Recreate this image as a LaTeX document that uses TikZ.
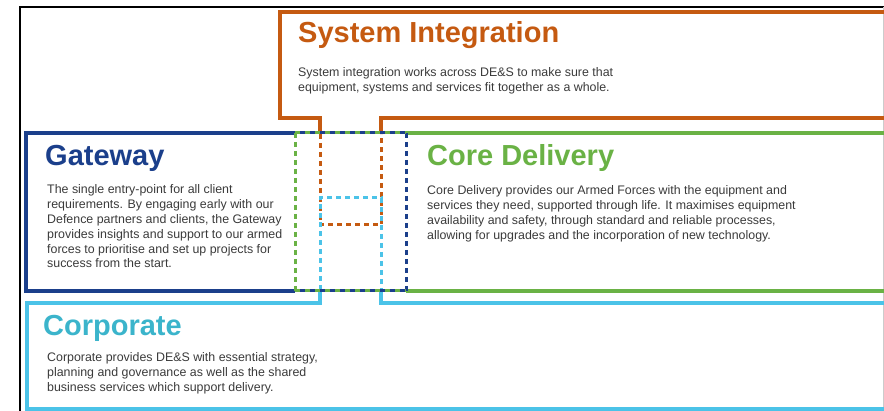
\documentclass[tikz,border=0pt]{standalone}
\usepackage{fontspec}
\setmainfont{Liberation Sans}

\definecolor{siorange}{HTML}{C55A11}
\definecolor{gwblue}{HTML}{1B3F8B}
\definecolor{cdgreen}{HTML}{6AB245}
\definecolor{cpcyan}{HTML}{4BC3E8}
\definecolor{cptitle}{HTML}{3BB4CB}
\definecolor{bodygray}{HTML}{3A3A3A}

\begin{document}
\begin{tikzpicture}[x=1pt, y=-1pt,
    edge/.style={line width=3.2pt},
    dashedge/.style={line width=3pt, dash pattern=on 5pt off 4pt},
    halfdash/.style={line width=3pt, dash pattern=on 5pt off 5pt},
    title/.style={anchor=base west, inner sep=0pt, font=\fontsize{29}{33}\selectfont\bfseries},
    body/.style={anchor=base west, inner sep=0pt, align=left, text=bodygray,
        font=\fontsize{12.4}{14.8}\selectfont}]
    \useasboundingbox (0,0) rectangle (884,411);
    % frame
    \draw[black, line width=1.8pt] (20,412) -- (20,7) -- (890,7);
    \draw[black!20, line width=0.8pt] (883.5,7) -- (883.5,412);
    % System Integration
    \draw[siorange, edge] (890,118) -- (381,118) -- (381,134);
    \draw[siorange, edge] (890,12) -- (280,12) -- (280,118) -- (320,118) -- (320,134);
    \draw[siorange, dashedge] (320,134) -- (320,225) -- (381,225) -- (381,134);
    % Corporate
    \draw[cpcyan, edge] (890,303) -- (381,303) -- (381,290);
    \draw[cpcyan, edge] (890,409) -- (27,409) -- (27,303) -- (320,303) -- (320,290);
    \draw[cpcyan, dashedge] (320,290) -- (320,198) -- (381,198) -- (381,290);
    % Gateway and Core Delivery
    \draw[gwblue, edge] (295,133) -- (26,133) -- (26,291) -- (295,291);
    \draw[cdgreen, edge] (406,133) -- (890,133);
    \draw[cdgreen, edge] (406,291) -- (890,291);
    \draw[cdgreen, dashedge] (295,133) -- (295,291);
    \draw[gwblue, dashedge] (406,133) -- (406,291);
    \draw[cdgreen, halfdash] (295,133) -- (406,133) (295,291) -- (406,291);
    \draw[gwblue, halfdash, dash phase=5pt] (295,133) -- (406,133) (295,291) -- (406,291);
    % texts (body nodes sit on their last baseline)
    \node[title, text=siorange] (sititle) at (298,43) {System Integration};
    \node[body] (sitext) at (298,91.8) {System integration works across DE\&S to make sure that\\
        equipment, systems and services fit together as a whole.};
    \node[title, text=gwblue] (gwtitle) at (45,166) {Gateway};
    \node[body] (gwtext) at (47,268) {The single entry-point for all client\\
        requirements. By engaging early with our\\
        Defence partners and clients, the Gateway\\
        provides insights and support to our armed\\
        forces to prioritise and set up projects for\\
        success from the start.};
    \node[title, text=cdgreen] (cdtitle) at (427,166) {Core Delivery};
    \node[body] (cdtext) at (427,239.4) {Core Delivery provides our Armed Forces with the equipment and\\
        services they need, supported through life. It maximises equipment\\
        availability and safety, through standard and reliable processes,\\
        allowing for upgrades and the incorporation of new technology.};
    \node[title, text=cptitle] (cptitle) at (43,336) {Corporate};
    \node[body] (cptext) at (47,391.6) {Corporate provides DE\&S with essential strategy,\\
        planning and governance as well as the shared\\
        business services which support delivery.};
\end{tikzpicture}
\end{document}
